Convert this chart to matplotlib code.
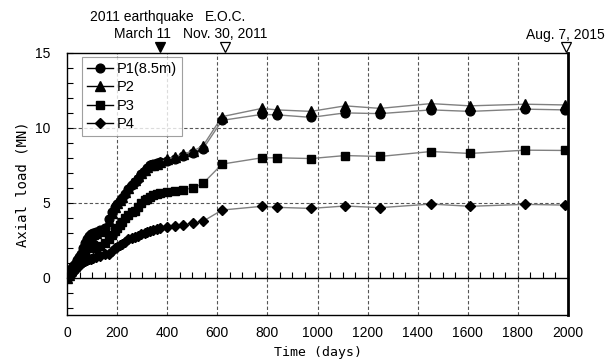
import matplotlib
matplotlib.use("Agg")
import matplotlib.pyplot as plt
from matplotlib.ticker import MultipleLocator, FixedLocator, NullFormatter

# Elapsed time since installation (days)
days = [0, 8, 16, 24, 32, 40, 48, 56, 64, 72, 80, 88, 96, 104, 116, 132, 152,
        168, 180, 192, 200, 212, 220, 232, 244, 259, 271, 283, 297, 311, 319,
        331, 345, 359, 371, 399, 431, 463, 503, 543, 619, 778, 838, 974, 1110,
        1250, 1453, 1609, 1828, 1988]

# Axial load of each pile (MN)
p1 = [0, 0.3, 0.6, 0.8, 0.9, 1.2, 1.4, 1.6, 2.0, 2.3, 2.6, 2.8, 2.9, 3.0,
      3.05, 3.15, 3.3, 3.9, 4.35, 4.7, 4.9, 5.1, 5.3, 5.6, 5.9, 6.15, 6.4,
      6.6, 6.9, 7.1, 7.35, 7.55, 7.6, 7.65, 7.7, 7.8, 7.95, 8.1, 8.35, 8.6,
      10.5, 10.9, 10.87, 10.7, 11.0, 10.95, 11.2, 11.1, 11.25, 11.2]
p2 = [0, 0.2, 0.5, 0.7, 0.9, 1.1, 1.3, 1.5, 1.8, 2.1, 2.4, 2.6, 2.8, 2.9,
      3.0, 3.1, 3.2, 3.8, 4.3, 4.7, 4.95, 5.2, 5.4, 5.7, 6.0, 6.3, 6.55,
      6.8, 7.0, 7.2, 7.4, 7.5, 7.5, 7.6, 7.7, 7.9, 8.05, 8.25, 8.45, 8.8,
      10.75, 11.3, 11.2, 11.1, 11.47, 11.3, 11.62, 11.47, 11.58, 11.53]
p3 = [0, 0.2, 0.4, 0.6, 0.7, 0.9, 1.1, 1.3, 1.6, 1.8, 2.0, 2.1, 2.15, 2.2,
      2.0, 2.1, 2.3, 2.58, 2.85, 3.1, 3.31, 3.5, 3.7, 3.95, 4.2, 4.38, 4.45,
      4.73, 4.95, 5.15, 5.24, 5.4, 5.5, 5.56, 5.62, 5.69, 5.75, 5.87, 5.98,
      6.29, 7.58, 8.0, 8.0, 7.95, 8.15, 8.09, 8.42, 8.29, 8.51, 8.49]
p4 = [0, 0.1, 0.2, 0.36, 0.5, 0.69, 0.8, 0.95, 1.05, 1.1, 1.18, 1.22, 1.26,
      1.31, 1.36, 1.45, 1.58, 1.6, 1.78, 1.95, 2.02, 2.15, 2.25, 2.35, 2.55,
      2.65, 2.72, 2.8, 2.88, 2.97, 3.02, 3.08, 3.15, 3.24, 3.31, 3.4, 3.47,
      3.53, 3.62, 3.76, 4.51, 4.76, 4.69, 4.62, 4.78, 4.67, 4.91, 4.76,
      4.89, 4.84]

series = [("P1(8.5m)", p1, "o"), ("P2", p2, "^"), ("P3", p3, "s"), ("P4", p4, "D")]

# Key dates (days)
event_days = [371, 631, 1992]
event_filled = [True, False, False]

x_ticks = [0, 200, 400, 600, 800, 1000, 1200, 1400, 1600, 1800, 2000]
y_ticks = [0, 5, 10, 15]

plt.rcParams["font.family"] = ["Liberation Sans", "DejaVu Sans"]

fig = plt.figure(figsize=(6.13, 3.63), dpi=100)
ax = fig.add_axes([67 / 613, 1 - 315 / 363, 501 / 613, 262 / 363])

ax.set_xlim(0, 2000)
ax.set_ylim(-2.5, 15)

marker_size = {"o": 6.3, "^": 6.5, "s": 5.6, "D": 5.2}
for label, vals, mk in series:
    ax.plot(days, vals, color="#808080", lw=1.0, marker=mk, ms=marker_size[mk],
            mfc="black", mec="black", label=label, zorder=3)

# grid
for xv in x_ticks[1:-1]:
    ax.axvline(xv, color="#555555", lw=0.8, ls=(0, (3, 2)), zorder=1)
for yv in (5, 10):
    ax.axhline(yv, color="#555555", lw=0.8, ls=(0, (3, 2)), zorder=1)

# zero line carrying minor ticks
sec = ax.secondary_xaxis(2.5 / 17.5)
sec.xaxis.set_major_locator(MultipleLocator(50))
sec.xaxis.set_major_formatter(NullFormatter())
sec.tick_params(axis="x", direction="in", length=4, width=0.8, color="black")
sec.spines["bottom"].set_linewidth(1.0)

ax.xaxis.set_major_locator(FixedLocator(x_ticks))
ax.tick_params(axis="x", length=0, pad=8, labelsize=10)
ax.yaxis.set_major_locator(FixedLocator(y_ticks))
ax.yaxis.set_minor_locator(MultipleLocator(1))
ax.tick_params(axis="y", which="both", direction="in", length=4, width=0.8,
               pad=12, labelsize=10)

for s in ("left", "bottom", "top"):
    ax.spines[s].set_linewidth(1.0)
ax.spines["right"].set_linewidth(2.0)

ax.set_xlabel("Time (days)", family="DejaVu Sans Mono", fontsize=9.5, labelpad=4)
ax.set_ylabel("Axial load (MN)", family="DejaVu Sans Mono", fontsize=10, labelpad=4)

leg = ax.legend(loc="upper left", bbox_to_anchor=(0.03, 0.985), frameon=True,
                fancybox=False, edgecolor="#888888", fontsize=10.5,
                handlelength=1.8, handletextpad=0.2, labelspacing=0.3,
                borderpad=0.35, borderaxespad=0)
leg.get_frame().set_linewidth(0.8)
for h in leg.legend_handles:
    h.set_color("black")
    h.set_markerfacecolor("black")

# event markers above the frame
for d, filled in zip(event_days, event_filled):
    ax.plot([d], [15.42], marker="v", ms=7.5, mfc="black" if filled else "white",
            mec="black", mew=0.9, clip_on=False, zorder=5)

fs = 10
ax.text(300, 17.38, "2011 earthquake", ha="center", va="center", fontsize=fs)
ax.text(300, 16.25, "March 11", ha="center", va="center", fontsize=fs)
ax.text(631, 17.38, "E.O.C.", ha="center", va="center", fontsize=fs)
ax.text(631, 16.25, "Nov. 30, 2011", ha="center", va="center", fontsize=fs)
ax.text(1988, 16.2, "Aug. 7, 2015", ha="center", va="center", fontsize=fs)

fig.savefig("out.png", dpi=100)
